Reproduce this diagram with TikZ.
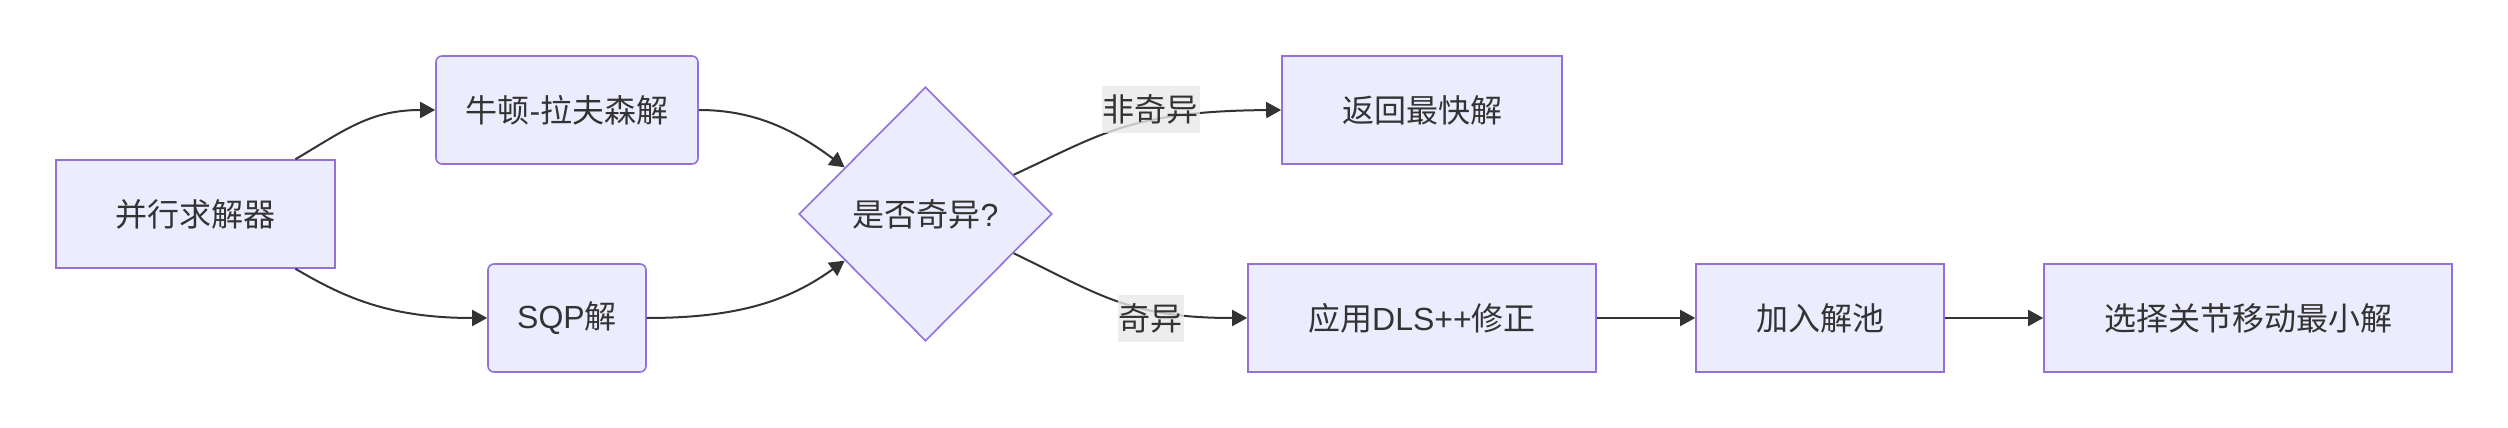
\documentclass[tikz,border=0pt]{standalone}
\usepackage{fontspec}
\setmainfont{Liberation Sans}
\newfontfamily\zhfont{Noto Sans CJK SC}
\newcommand{\zh}[1]{{\zhfont #1}}
\usetikzlibrary{shapes.geometric,arrows.meta}
\definecolor{nodefill}{HTML}{ECECFF}
\definecolor{nodeline}{HTML}{9370DB}
\definecolor{edgeline}{HTML}{333333}
\definecolor{labelbg}{HTML}{E8E8E8}
\begin{document}
\begin{tikzpicture}[x=0.5pt,y=-0.5pt,
  every node/.style={font=\fontsize{16pt}{19pt}\selectfont, text=edgeline},
  box/.style={draw=nodeline, fill=nodefill, line width=0.8pt, minimum height=54pt, inner sep=0pt},
  rbox/.style={box, rounded corners=3pt},
  decision/.style={diamond, draw=nodeline, fill=nodefill, line width=0.8pt, minimum width=126.5pt, minimum height=127pt, inner sep=0pt, aspect=1},
  elabel/.style={fill=labelbg, fill opacity=0.8, text opacity=1, inner xsep=0.5pt, inner ysep=0pt, minimum height=23.5pt},
  conn/.style={draw=edgeline, line width=1pt, -{Triangle[length=7.5pt,width=8pt]}}]
\useasboundingbox (0,0) rectangle (2508,428);
\node[box, minimum width=139.5pt] (A) at (195.5,214) {\zh{并行求解器}};
\node[rbox, minimum width=131pt] (B) at (567,110) {\zh{牛顿}-\zh{拉夫森解}};
\node[rbox, minimum width=79pt] (C) at (567,318) {SQP\zh{解}};
\node[decision] (D) at (925.5,214) {\zh{是否奇异}?};
\node[box, minimum width=140pt] (E) at (1422,110) {\zh{返回最快解}};
\node[box, minimum width=174pt] (F) at (1422,318) {\zh{应用}DLS++\zh{修正}};
\node[box, minimum width=124pt] (G) at (1820,318) {\zh{加入解池}};
\node[box, minimum width=204pt] (H) at (2248,318) {\zh{选择关节移动最小解}};
\draw[conn] ([xshift=50pt]A.north) .. controls (345,130) and (370,110) .. (B.west);
\draw[conn] ([xshift=50pt]A.south) .. controls (345,298) and (390,318) .. (C.west);
\draw[conn] (B.east) .. controls (752,110) and (792,128) .. (D.150);
\draw[conn] (C.east) .. controls (740,318) and (790,300) .. (D.210);
\draw[conn] (D.24) .. controls (1100,135) and (1130,111) .. (E.west);
\draw[conn] (D.-24) .. controls (1100,295) and (1130,318) .. (F.west);
\draw[conn] (F.east) -- (G.west);
\draw[conn] (G.east) -- (H.west);
\node[elabel] (L1) at (1150.5,109.5) {\zh{非奇异}};
\node[elabel] (L2) at (1150.5,318) {\zh{奇异}};
\end{tikzpicture}
\end{document}
